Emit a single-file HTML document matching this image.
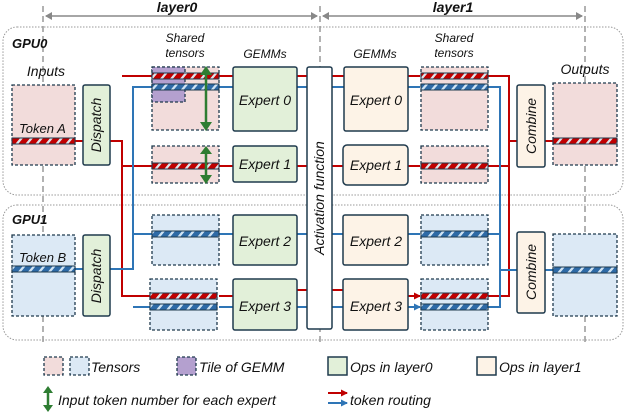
<!DOCTYPE html>
<html><head><meta charset="utf-8"><style>
body{margin:0;background:#fff;width:626px;height:414px;overflow:hidden}
svg text{font-family:"Liberation Sans",sans-serif;font-style:italic;fill:#111}
</style></head><body>
<svg width="626" height="414" viewBox="0 0 626 414" xmlns="http://www.w3.org/2000/svg">
<defs>
<pattern id="rs" width="10" height="6" patternUnits="userSpaceOnUse" patternTransform="skewX(-40)">
<rect width="10" height="6" fill="#c00000"/><rect x="6" width="3" height="6" fill="#dde3ea"/></pattern>
<pattern id="bs" width="10" height="6" patternUnits="userSpaceOnUse" patternTransform="skewX(-40)">
<rect width="10" height="6" fill="#2e6aa6"/><rect x="6" width="3" height="6" fill="#cfe3f3"/></pattern>
<marker id="ar" markerUnits="userSpaceOnUse" markerWidth="7" markerHeight="7" refX="6" refY="3.5" orient="auto"><path d="M0,0L7,3.5L0,7z" fill="#c00000"/></marker>
<marker id="ab" markerUnits="userSpaceOnUse" markerWidth="7" markerHeight="7" refX="6" refY="3.5" orient="auto"><path d="M0,0L7,3.5L0,7z" fill="#2e75b6"/></marker>
</defs>
<rect x="3" y="27" width="620" height="168" rx="14" fill="none" stroke="#999" stroke-dasharray="1.5 1.5"/>
<rect x="3" y="205" width="620" height="135" rx="14" fill="none" stroke="#999" stroke-dasharray="1.5 1.5"/>
<g stroke="#999" stroke-width="1.5" stroke-dasharray="6 4">
<line x1="43" y1="6" x2="43" y2="342"/><line x1="320" y1="6" x2="320" y2="342"/><line x1="585" y1="6" x2="585" y2="342"/></g>
<g stroke="#888" stroke-width="1.5"><line x1="46" y1="16" x2="317" y2="16"/><line x1="323" y1="16" x2="582" y2="16"/></g>
<path d="M52,12 L45,16 L52,20z M311,12 L318,16 L311,20z M329,12 L322,16 L329,20z M576,12 L583,16 L576,20z" fill="#888"/>
<text x="177" y="12" font-size="14" font-weight="bold" text-anchor="middle">layer0</text>
<text x="453" y="12" font-size="14" font-weight="bold" text-anchor="middle">layer1</text>
<text x="12" y="48" font-size="13" font-weight="bold">GPU0</text>
<text x="12" y="224" font-size="13" font-weight="bold">GPU1</text>
<text x="46" y="76" font-size="14" text-anchor="middle">Inputs</text>
<text x="585" y="74" font-size="14" text-anchor="middle">Outputs</text>
<text x="185" y="42" font-size="12" text-anchor="middle">Shared</text><text x="185" y="57" font-size="12" text-anchor="middle">tensors</text>
<text x="265" y="58" font-size="12" text-anchor="middle">GEMMs</text>
<text x="375" y="58" font-size="12" text-anchor="middle">GEMMs</text>
<text x="454" y="42" font-size="12" text-anchor="middle">Shared</text><text x="454" y="57" font-size="12" text-anchor="middle">tensors</text>

<g fill="none" stroke-width="2">
<path d="M75,141 H122 V296 H152" stroke="#c00000"/>
<path d="M122,76 H152 M122,166 H152" stroke="#c00000"/>
<path d="M75,269 H133 V87 H152 M133,234 H152 M133,307 H152" stroke="#2e75b6"/>
<path d="M219,76 H233 M297,76 H307 M332,76 H344 M219,166 H233 M297,166 H307 M332,166 H343 M219,296 H233 M297,290 H307 M332,290 H343" stroke="#c00000"/>
<path d="M219,87 H233 M297,87 H307 M332,87 H344 M219,234 H233 M297,234 H307 M332,234 H343 M219,307 H233 M297,307 H307 M332,307 H343" stroke="#2e75b6"/>
<path d="M408,76 H420 M408,166 H420 M408,296 H420" stroke="#c00000" marker-end="url(#ar)"/>
<path d="M408,87 H420 M408,234 H420 M408,307 H420" stroke="#2e75b6" marker-end="url(#ab)"/>
<path d="M488,76 H509 V296 H488 M488,166 H509 M509,141 H517 M545,141 H553" stroke="#c00000"/>
<path d="M488,87 H500 V307 H488 M488,234 H500 M500,270 H517 M545,270 H553" stroke="#2e75b6"/>
</g>

<g stroke="#1f3a4d" stroke-width="1.3" stroke-dasharray="3 2">
<rect x="12" y="85" width="63" height="80" fill="#f2dcdb"/>
<rect x="12" y="235" width="63" height="81" fill="#dce9f5"/>
<rect x="152" y="67" width="67" height="63" fill="#f2dcdb"/>
<rect x="152" y="67" width="33" height="35" fill="#b4a0cf"/>
<rect x="152" y="146" width="67" height="37" fill="#f2dcdb"/>
<rect x="152" y="215" width="67" height="50" fill="#dce9f5"/>
<rect x="150" y="279" width="67" height="51" fill="#dce9f5"/>
<rect x="421" y="67" width="67" height="63" fill="#f2dcdb"/>
<rect x="421" y="146" width="67" height="37" fill="#f2dcdb"/>
<rect x="421" y="215" width="67" height="50" fill="#dce9f5"/>
<rect x="421" y="279" width="67" height="51" fill="#dce9f5"/>
<rect x="553" y="83" width="64" height="82" fill="#f2dcdb"/>
<rect x="553" y="234" width="64" height="82" fill="#dce9f5"/>
</g>
<g stroke="#1f3a4d" stroke-width="1">
<rect x="12" y="138" width="63" height="6" fill="url(#rs)"/>
<rect x="12" y="266" width="63" height="6" fill="url(#bs)"/>
<rect x="152" y="73" width="67" height="6" fill="url(#rs)"/>
<rect x="152" y="84" width="67" height="6" fill="url(#bs)"/>
<rect x="152" y="163" width="67" height="6" fill="url(#rs)"/>
<rect x="152" y="231" width="67" height="6" fill="url(#bs)"/>
<rect x="150" y="293" width="67" height="6" fill="url(#rs)"/>
<rect x="150" y="304" width="67" height="6" fill="url(#bs)"/>
<rect x="421" y="73" width="67" height="6" fill="url(#rs)"/>
<rect x="421" y="84" width="67" height="6" fill="url(#bs)"/>
<rect x="421" y="163" width="67" height="6" fill="url(#rs)"/>
<rect x="421" y="231" width="67" height="6" fill="url(#bs)"/>
<rect x="421" y="293" width="67" height="6" fill="url(#rs)"/>
<rect x="421" y="304" width="67" height="6" fill="url(#bs)"/>
<rect x="553" y="138" width="64" height="6" fill="url(#rs)"/>
<rect x="553" y="267" width="64" height="6" fill="url(#bs)"/>
</g>
<text x="19" y="133" font-size="13">Token A</text>
<text x="19" y="262" font-size="13">Token B</text>
<g stroke="#2e7d32" stroke-width="2.5"><line x1="206" y1="72" x2="206" y2="125"/><line x1="206" y1="151" x2="206" y2="178"/></g>
<path d="M200,75 L206,66 L212,75z M200,122 L206,131 L212,122z M200,154 L206,146 L212,154z M200,175 L206,184 L212,175z" fill="#2e7d32"/>

<g stroke="#1f3a4d" stroke-width="1.5">
<rect x="83" y="85" width="27" height="80" rx="2" fill="#e2f0d9"/>
<rect x="83" y="235" width="27" height="81" rx="2" fill="#e2f0d9"/>
<rect x="233" y="67" width="64" height="64" rx="2" fill="#e2f0d9"/>
<rect x="233" y="146" width="64" height="36" rx="2" fill="#e2f0d9"/>
<rect x="233" y="215" width="64" height="50" rx="2" fill="#e2f0d9"/>
<rect x="233" y="279" width="64" height="51" rx="2" fill="#e2f0d9"/>
<rect x="307" y="67" width="25" height="262" rx="2" fill="#fff"/>
<rect x="344" y="67" width="64" height="64" rx="2" fill="#fdf3e7"/>
<rect x="343" y="145" width="65" height="40" rx="4" fill="#fdf3e7"/>
<rect x="343" y="215" width="65" height="50" rx="2" fill="#fdf3e7"/>
<rect x="343" y="279" width="65" height="51" rx="2" fill="#fdf3e7"/>
<rect x="517" y="85" width="28" height="82" rx="2" fill="#fdf3e7"/>
<rect x="517" y="232" width="28" height="81" rx="2" fill="#fdf3e7"/>
</g>
<g font-size="14" text-anchor="middle">
<text x="265" y="105">Expert 0</text><text x="265" y="169">Expert 1</text>
<text x="265" y="246">Expert 2</text><text x="265" y="311">Expert 3</text>
<text x="376" y="105">Expert 0</text><text x="376" y="170">Expert 1</text>
<text x="376" y="246">Expert 2</text><text x="376" y="311">Expert 3</text>
<text transform="translate(101,125) rotate(-90)">Dispatch</text>
<text transform="translate(101,276) rotate(-90)">Dispatch</text>
<text transform="translate(536,126) rotate(-90)">Combine</text>
<text transform="translate(536,272) rotate(-90)">Combine</text>
<text transform="translate(324,198) rotate(-90)">Activation function</text>
</g>

<g stroke="#1f3a4d" stroke-width="1.3" stroke-dasharray="3 2">
<rect x="44" y="357" width="19" height="18" fill="#f2dcdb"/>
<rect x="70" y="357" width="19" height="18" fill="#dce9f5"/>
<rect x="177" y="357" width="19" height="18" fill="#b4a0cf"/></g>
<g stroke="#1f3a4d" stroke-width="1.5">
<rect x="328" y="357" width="19" height="18" fill="#e2f0d9"/>
<rect x="477" y="357" width="19" height="18" fill="#fdf3e7"/></g>
<g font-size="14"><text x="91" y="372">Tensors</text><text x="199" y="372">Tile of GEMM</text>
<text x="350" y="372">Ops in layer0</text><text x="499" y="372">Ops in layer1</text>
<text x="58" y="405">Input token number for each expert</text><text x="350" y="405">token routing</text></g>
<line x1="48" y1="392" x2="48" y2="406" stroke="#2e7d32" stroke-width="2.5"/>
<path d="M43,393 L48,386 L53,393z M43,405 L48,412 L53,405z" fill="#2e7d32"/>
<line x1="328" y1="393" x2="347" y2="393" stroke="#c00000" stroke-width="2" marker-end="url(#ar)"/>
<line x1="328" y1="403" x2="347" y2="403" stroke="#2e75b6" stroke-width="2" marker-end="url(#ab)"/>
</svg>
</body></html>
